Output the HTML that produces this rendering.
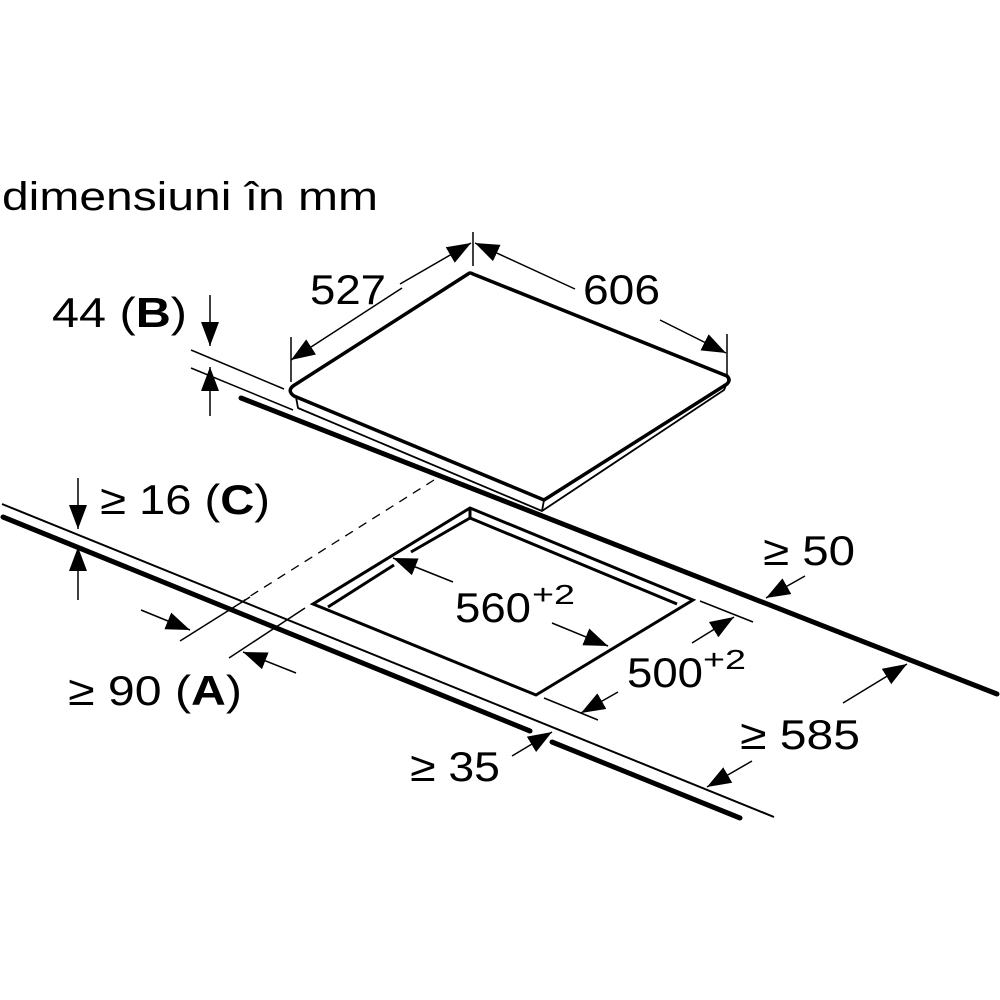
<!DOCTYPE html>
<html><head><meta charset="utf-8"><style>
html,body{margin:0;padding:0;background:#fff;width:1000px;height:1000px;overflow:hidden}
svg{display:block}
text{font-family:"Liberation Sans",Arial,sans-serif;fill:#000}
</style></head><body>
<svg width="1000" height="1000" viewBox="0 0 1000 1000" xmlns="http://www.w3.org/2000/svg">
<defs>
<marker id="b" viewBox="0 0 10 10" refX="10" refY="5" markerWidth="24" markerHeight="18" markerUnits="userSpaceOnUse" orient="auto" preserveAspectRatio="none">
<path d="M0,0 L10,5 L0,10 z" fill="#000"/></marker>
</defs>
<text x="2" y="210" font-size="40" textLength="376" lengthAdjust="spacingAndGlyphs">dimensiuni în mm</text>

<g fill="none" stroke="#000" stroke-linejoin="round">
<path d="M473,274 L727,376 Q731,380 727,384 L544,500 L294,396 Q287,391 293,386 L468,274 Q470,272 473,274 Z" stroke-width="3.5"/>
<path d="M296,397 L298,408 L542,511 L724,390 L727,383" stroke-width="1.8"/>
<path d="M544,500 L542,511" stroke-width="1.8"/>
</g>
<line x1="241" y1="398" x2="997" y2="694" stroke="#000" stroke-width="5" stroke-linecap="round"/>
<line x1="2" y1="504" x2="774" y2="817" stroke="#000" stroke-width="2"/>
<line x1="3" y1="517" x2="530" y2="731" stroke="#000" stroke-width="5" stroke-linecap="round"/>
<line x1="552" y1="742" x2="740" y2="818" stroke="#000" stroke-width="5" stroke-linecap="round"/>

<g fill="none" stroke="#000" stroke-width="3">
<path d="M470,508 L693,600 L536,695 L313,604 Z"/>
<path d="M470,508 L470,518 L677,604"/>
<path d="M470,518 L411,552"/>
<path d="M394,565 L328,607"/>
</g>
<line x1="434" y1="480" x2="244" y2="600" stroke="#000" stroke-width="1.3" stroke-dasharray="9,7"/>

<g stroke="#000" stroke-width="1.5" fill="none">
<line x1="291" y1="337" x2="291" y2="382"/>
<line x1="473" y1="232" x2="473" y2="266"/>
<line x1="727" y1="334" x2="727" y2="375"/>
<line x1="402" y1="288" x2="291" y2="360" marker-end="url(#b)"/>
<line x1="400" y1="284" x2="471" y2="243" marker-end="url(#b)"/>
<line x1="575" y1="289" x2="475" y2="243" marker-end="url(#b)"/>
<line x1="660" y1="320" x2="726" y2="353" marker-end="url(#b)"/>
<line x1="191" y1="350" x2="284" y2="389"/>
<line x1="191" y1="368" x2="293" y2="410"/>
<line x1="210" y1="295" x2="210" y2="346" marker-end="url(#b)"/>
<line x1="210" y1="416" x2="210" y2="367" marker-end="url(#b)"/>
<line x1="78" y1="478" x2="78" y2="529" marker-end="url(#b)"/>
<line x1="78" y1="600" x2="78" y2="547" marker-end="url(#b)"/>
<line x1="180" y1="641" x2="250" y2="597"/>
<line x1="229" y1="658" x2="305" y2="608"/>
<line x1="141" y1="610" x2="190" y2="630" marker-end="url(#b)"/>
<line x1="296" y1="673" x2="243" y2="652" marker-end="url(#b)"/>
<line x1="453" y1="582" x2="393" y2="558" marker-end="url(#b)"/>
<line x1="552" y1="623" x2="608" y2="646" marker-end="url(#b)"/>
<line x1="700" y1="601" x2="753" y2="622"/>
<line x1="544" y1="698" x2="598" y2="720"/>
<line x1="692" y1="643" x2="734" y2="617" marker-end="url(#b)"/>
<line x1="618" y1="692" x2="581" y2="713" marker-end="url(#b)"/>
<line x1="512" y1="756" x2="552" y2="732" marker-end="url(#b)"/>
<line x1="805" y1="576" x2="766" y2="598" marker-end="url(#b)"/>
<line x1="843" y1="703" x2="907" y2="664" marker-end="url(#b)"/>
<line x1="752" y1="761" x2="707" y2="787" marker-end="url(#b)"/>
</g>

<g font-size="42">
<text x="310" y="304" textLength="76" lengthAdjust="spacingAndGlyphs">527</text>
<text x="583" y="304" textLength="77" lengthAdjust="spacingAndGlyphs">606</text>
<text x="52" y="327" textLength="135" lengthAdjust="spacingAndGlyphs">44 (<tspan font-weight="bold">B</tspan>)</text>
<text x="100" y="514" textLength="170" lengthAdjust="spacingAndGlyphs">≥ 16 (<tspan font-weight="bold">C</tspan>)</text>
<text x="763" y="565" textLength="92" lengthAdjust="spacingAndGlyphs">≥ 50</text>
<text x="455" y="622" textLength="76" lengthAdjust="spacingAndGlyphs">560</text>
<text x="532" y="604" font-size="28" textLength="43" lengthAdjust="spacingAndGlyphs">+2</text>
<text x="627" y="687" textLength="76" lengthAdjust="spacingAndGlyphs">500</text>
<text x="703" y="669" font-size="28" textLength="43" lengthAdjust="spacingAndGlyphs">+2</text>
<text x="68" y="705" textLength="174" lengthAdjust="spacingAndGlyphs">≥ 90 (<tspan font-weight="bold">A</tspan>)</text>
<text x="740" y="749" textLength="120" lengthAdjust="spacingAndGlyphs">≥ 585</text>
<text x="410" y="781" textLength="90" lengthAdjust="spacingAndGlyphs">≥ 35</text>
</g>
</svg>
</body></html>
